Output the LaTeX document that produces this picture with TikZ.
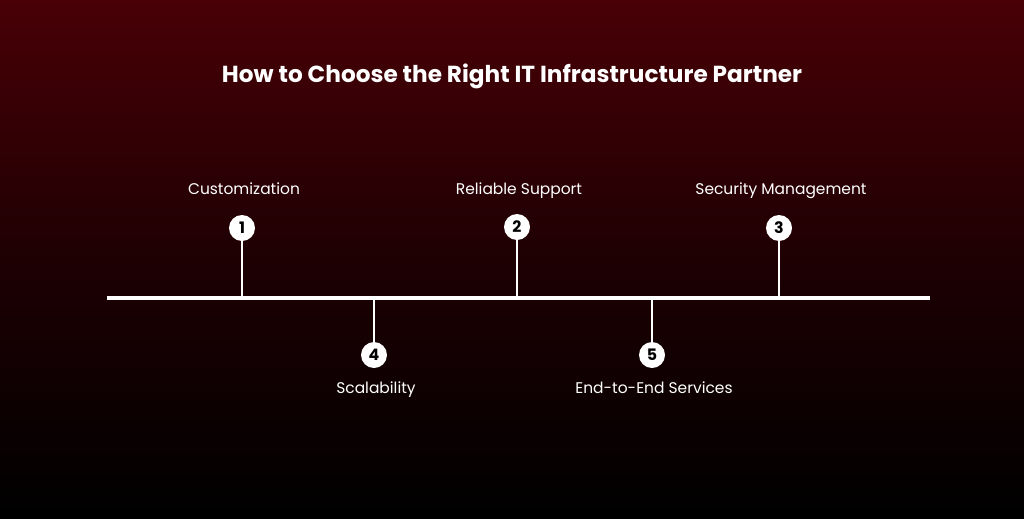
\documentclass[tikz,border=0pt]{standalone}
\usepackage{fontspec}
\setmainfont{Poppins}
\begin{document}
\begin{tikzpicture}[x=0.02cm,y=-0.02cm,
  lab/.style={text=white,font=\fontsize{8.8}{10}\selectfont,inner sep=0,anchor=base},
  num/.style={circle,fill=white,minimum size=0.52cm,inner sep=0,text=black,font=\bfseries\fontsize{9}{10}\selectfont},
  ln/.style={white,line width=0.8pt}]
\shade[top color={rgb,255:red,72;green,0;blue,6},bottom color=black,middle color={rgb,255:red,30;green,0;blue,3}] (0,0) rectangle (1024,518);
\useasboundingbox (0,0) rectangle (1024,518);
\node[text=white,font=\bfseries\fontsize{13.2}{15}\selectfont] (title) at (512,76) {How to Choose the Right IT Infrastructure Partner};
\coordinate (L) at (107,298); \coordinate (R) at (930,298);
\draw[white,line width=2.2pt] (L) -- (R);
\foreach \n/\x/\y/\t/\ly in {1/242/228/Customization/194, 2/517/227/Reliable Support/194, 3/779/228/Security Management/194, 4/374/355/Scalability/393, 5/652/355/End-to-End Services/393}{
  \node[num] (c\n) at (\x,\y) {\n};
  \coordinate (p\n) at (\x,298);
  \draw[ln] (c\n) -- (p\n);
  \node[lab] (t\n) at (\x+2,\ly) {\t};
}
\end{tikzpicture}
\end{document}
